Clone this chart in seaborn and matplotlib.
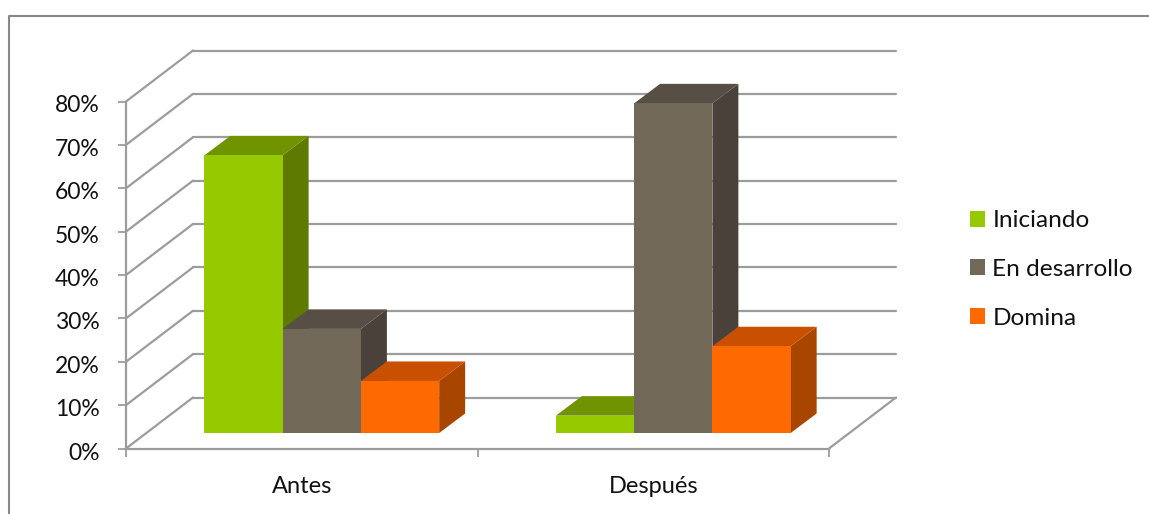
import pandas as pd
import seaborn as sns
import matplotlib.pyplot as plt
from matplotlib.lines import Line2D
from matplotlib.patches import Patch, Polygon
from matplotlib.transforms import Affine2D, IdentityTransform

# Values
PERIODS = ['Antes', 'Después']
LEVELS = ['Iniciando', 'En desarrollo', 'Domina']
INICIANDO = [64, 4]
EN_DESARROLLO = [24, 76]
DOMINA = [12, 20]
Y_TICKS = [0, 10, 20, 30, 40, 50, 60, 70, 80]

FRONT = ['#97C900', '#726857', '#FF6A00']
SIDE = ['#5E7A00', '#4A423A', '#A84600']
TOP = ['#6F9400', '#574F45', '#C85000']
GRID = '#9C9C9C'
TEXT = '#111111'

W, H = 1149, 514

# 3D look, in pixels
WALL = (67, 51)     # front plane to back wall
BAR_SHIFT = (20, 15.5)
BAR_DEPTH = (26, 19.5)

df = pd.DataFrame({
    'periodo': PERIODS * 3,
    'nivel': [LEVELS[0]] * 2 + [LEVELS[1]] * 2 + [LEVELS[2]] * 2,
    'valor': INICIANDO + EN_DESARROLLO + DOMINA,
})

sns.set_style('white')
plt.rcParams['font.family'] = ['Lato', 'DejaVu Sans']

fig = plt.figure(figsize=(W / 100, H / 100), dpi=100)
ax = fig.add_axes([126 / W, 1 - 448.5 / H, 703 / W, 347 / H])
ax.patch.set_alpha(0)

sns.barplot(data=df, x='periodo', y='valor', hue='nivel', order=PERIODS,
            hue_order=LEVELS, palette=FRONT, width=0.668, gap=0,
            saturation=1, legend=False, linewidth=0, edgecolor='none', ax=ax)
ax.set_xlim(-0.5, 1.5)
ax.set_ylim(0, 80)
ax.set_xlabel('')
ax.set_ylabel('')
sns.despine(ax=ax)

# Back wall and the diagonals joining it to the value axis
to_wall = ax.get_yaxis_transform() + Affine2D().translate(*WALL)
for v in Y_TICKS:
    ax.plot([0, 1], [v, v], transform=to_wall, color=GRID, lw=1.6,
            clip_on=False, zorder=1)
    x0, y0 = ax.transData.transform((-0.5, v))
    ax.add_line(Line2D([x0, x0 + WALL[0]], [y0, y0 + WALL[1]],
                       transform=IdentityTransform(), color=GRID, lw=1.6,
                       clip_on=False, zorder=1))
xr, yr = ax.transData.transform((1.5, 0))
ax.add_line(Line2D([xr, xr + WALL[0]], [yr, yr + WALL[1]],
                   transform=IdentityTransform(), color=GRID, lw=1.6,
                   clip_on=False, zorder=1))

# Extrude every seaborn bar
shift = Affine2D().translate(*BAR_SHIFT)
n_per_level = len(PERIODS)
for i, bar in enumerate(list(ax.patches)):
    lvl = i // n_per_level
    z = 3 + lvl
    (x0, y0), (x1, y1) = ax.transData.transform(bar.get_bbox().get_points())
    x0, x1 = x0 + BAR_SHIFT[0], x1 + BAR_SHIFT[0]
    y0, y1 = y0 + BAR_SHIFT[1], y1 + BAR_SHIFT[1]
    dx, dy = BAR_DEPTH
    ax.add_patch(Polygon([(x1, y0), (x1 + dx, y0 + dy), (x1 + dx, y1 + dy), (x1, y1)],
                         transform=IdentityTransform(), fc=SIDE[lvl], ec='none',
                         clip_on=False, zorder=z))
    ax.add_patch(Polygon([(x0, y1), (x1, y1), (x1 + dx, y1 + dy), (x0 + dx, y1 + dy)],
                         transform=IdentityTransform(), fc=TOP[lvl], ec='none',
                         clip_on=False, zorder=z))
    bar.set_transform(ax.transData + shift)
    bar.set_clip_on(False)
    bar.set_zorder(z + 0.5)

# Axes
for name in ['left', 'bottom']:
    ax.spines[name].set_color(GRID)
    ax.spines[name].set_linewidth(1.6)
ax.set_yticks(Y_TICKS)
ax.set_yticklabels([f'{v}%' for v in Y_TICKS])
ax.set_xticks([0, 1])
ax.set_xticklabels(PERIODS)
ax.set_xticks([-0.5, 0.5, 1.5], minor=True)
ax.tick_params(axis='y', left=True, length=5.8, width=1.3, color=GRID, pad=13,
               labelsize=16.5, labelcolor=TEXT)
ax.tick_params(axis='x', which='major', bottom=False, pad=16,
               labelsize=17, labelcolor=TEXT)
ax.tick_params(axis='x', which='minor', bottom=True, length=5.8, width=1.3, color=GRID)
for label in ax.get_yticklabels():
    label.set_transform(label.get_transform() + Affine2D().translate(0, -2.5))

handles = [Patch(fc=c, ec='none') for c in FRONT]
fig.legend(handles, LEVELS, loc='center left',
           bbox_to_anchor=(970 / W, 1 - 269.5 / H), frameon=False,
           fontsize=17.6, labelcolor=TEXT,
           handlelength=0.62, handleheight=0.62, handletextpad=0.3,
           labelspacing=1.13, borderpad=0, borderaxespad=0)

# Chart frame, only top and left show in the picture
fig.add_artist(Line2D([8.5 / W, 8.5 / W, 1], [0, 1 - 16 / H, 1 - 16 / H],
                      transform=fig.transFigure, color='#888888', lw=1.5))

fig.savefig('out.png', dpi=100)
